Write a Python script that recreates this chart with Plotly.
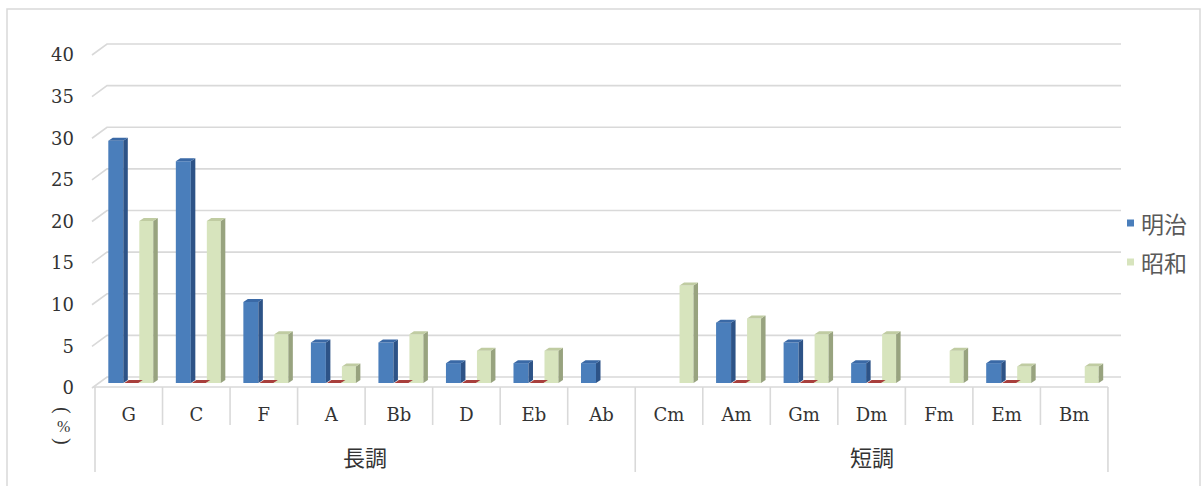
import plotly.graph_objects as go

# ---- data -------------------------------------------------------------
categories = ["G", "C", "F", "A", "Bb", "D", "Eb", "Ab",
              "Cm", "Am", "Gm", "Dm", "Fm", "Em", "Bm"]
group_names = ["長調", "短調"]
group_sizes = [8, 7]
meiji = [29.3, 26.8, 9.8, 4.9, 4.9, 2.4, 2.4, 2.4,
         None, 7.3, 4.9, 2.4, None, 2.4, None]
showa = [19.6, 19.6, 5.9, 2.0, 5.9, 3.9, 3.9, None,
         11.8, 7.8, 5.9, 5.9, 3.9, 2.0, 2.0]
third_series = [0, 0, 0, 0, 0, 0, 0, None,
                None, 0, 0, 0, None, 0, None]
y_ticks = [0, 5, 10, 15, 20, 25, 30, 35, 40]

# ---- geometry (pixels) ------------------------------------------------
W, H = 1202, 486
PX_L, PX_R, PX_T, PX_B = 92, 1121, 44, 388
CAT0, CAT_W = 95.0, 67.53          # front edge of the category axis
BASE_PX, Y_SCALE = 383.0, 8.27     # bar base and px per unit
WALL_SCALE = 8.325                 # back-wall gridline spacing
DEPTH_X, DEPTH_Y = 4.5 / CAT_W, 3.0 / Y_SCALE

x_range = [(PX_L - CAT0) / CAT_W - 0.5, (PX_R - CAT0) / CAT_W - 0.5]
y_range = [-(PX_B - BASE_PX) / Y_SCALE, (BASE_PX - PX_T) / Y_SCALE]


def pxx(px):
    return (px - PX_L) / (PX_R - PX_L)


def pxy(py):
    return (PX_B - py) / (PX_B - PX_T)


GRID = "#d9d9d9"
TEXT = "#333333"
SERIF = "DejaVu Serif"
CJK = "Noto Sans CJK JP"

series = [
    # values, offset, width, front, top, side
    (meiji, -0.303, 0.222, "#4a7ebb", "#3a69a6", "#2d5387"),
    (third_series, -0.066, 0.207, "#c0504d", "#a83f3c", "#86312f"),
    (showa, 0.156, 0.207, "#d7e4bd", "#c0cca2", "#98a37f"),
]

fig = go.Figure()
xs = list(range(len(categories)))

for vals, off, wid, c_front, c_top, c_side in series:
    side_x, side_y, top_x, top_y = [], [], [], []
    for i, v in enumerate(vals):
        if v is None:
            continue
        x0 = i + off
        x1 = x0 + wid
        side_x += [x1, x1, x1 + DEPTH_X, x1 + DEPTH_X, x1, None]
        side_y += [0, v, v + DEPTH_Y, DEPTH_Y, 0, None]
        top_x += [x0, x1, x1 + DEPTH_X, x0 + DEPTH_X, x0, None]
        top_y += [v, v, v + DEPTH_Y, v + DEPTH_Y, v, None]
    fig.add_trace(go.Scatter(x=side_x, y=side_y, mode="lines", fill="toself",
                             fillcolor=c_side, line=dict(width=0),
                             hoverinfo="skip", showlegend=False))
    fig.add_trace(go.Scatter(x=top_x, y=top_y, mode="lines", fill="toself",
                             fillcolor=c_top, line=dict(width=0),
                             hoverinfo="skip", showlegend=False))
    fig.add_trace(go.Bar(x=xs, y=vals, width=wid, offset=off,
                         marker=dict(color=c_front, line=dict(width=0)),
                         showlegend=False))

shapes = []
# back-wall gridlines with their slanted left end
for v in y_ticks:
    yf = PX_B - v * WALL_SCALE
    yb = 377 - v * WALL_SCALE
    shapes.append(dict(
        type="path", xref="paper", yref="paper", layer="below",
        path=f"M {pxx(92)},{pxy(yf)} L {pxx(107)},{pxy(yb)} L {pxx(1121)},{pxy(yb)}",
        line=dict(color=GRID, width=1.6)))

# category axis: floor front edge and separators
n = len(categories)
cat_right = CAT0 + n * CAT_W
shapes.append(dict(type="line", xref="paper", yref="paper", layer="below",
                   x0=pxx(93), x1=pxx(cat_right), y0=pxy(387), y1=pxy(387),
                   line=dict(color=GRID, width=1.6)))
group_edges = [0]
for s in group_sizes:
    group_edges.append(group_edges[-1] + s)
for i in range(n + 1):
    xp = CAT0 + i * CAT_W
    bottom = 472 if i in group_edges else 425
    shapes.append(dict(type="line", xref="paper", yref="paper",
                       x0=pxx(xp), x1=pxx(xp), y0=pxy(387), y1=pxy(bottom),
                       line=dict(color=GRID, width=1.6)))

# chart frame
shapes.append(dict(type="rect", xref="paper", yref="paper", layer="below",
                   x0=pxx(7), x1=pxx(1200), y0=pxy(9), y1=pxy(520),
                   line=dict(color=GRID, width=1.5)))

annotations = []
# group labels
for gi, name in enumerate(group_names):
    mid = CAT0 + (group_edges[gi] + group_edges[gi + 1]) / 2 * CAT_W
    annotations.append(dict(text=name, xref="paper", yref="paper",
                            x=pxx(mid), y=pxy(456), showarrow=False,
                            xanchor="center", yanchor="middle",
                            font=dict(family=CJK, size=22, color=TEXT)))

# unit label (%) written vertically: turned parentheses around an upright %
for txt, cy, angle, size in [("(", 410, 90, 20), ("%", 426, 0, 16), (")", 441, 90, 20)]:
    annotations.append(dict(text=txt, textangle=angle, xref="paper", yref="paper",
                            x=pxx(63), y=pxy(cy), showarrow=False,
                            xanchor="center", yanchor="middle",
                            font=dict(family="Liberation Serif", size=size, color=TEXT)))

# legend
legend_items = [("明治", "#4a7ebb", 223), ("昭和", "#d7e4bd", 262)]
for name, color, cy in legend_items:
    shapes.append(dict(type="rect", xref="paper", yref="paper",
                       x0=pxx(1127), x1=pxx(1134), y0=pxy(cy - 3.5), y1=pxy(cy + 3.5),
                       fillcolor=color, line=dict(width=0)))
    annotations.append(dict(text=name, xref="paper", yref="paper",
                            x=pxx(1139), y=pxy(cy), showarrow=False,
                            xanchor="left", yanchor="middle",
                            font=dict(family=CJK, size=23, color="#595959")))

fig.update_layout(
    width=W, height=H,
    margin=dict(l=PX_L, r=W - PX_R, t=PX_T, b=H - PX_B, pad=0),
    paper_bgcolor="white", plot_bgcolor="rgba(0,0,0,0)",
    barmode="overlay", showlegend=False,
    shapes=shapes, annotations=annotations,
    xaxis=dict(range=x_range, tickvals=xs, ticktext=categories,
               showgrid=False, zeroline=False, showline=False,
               ticks="outside", ticklen=0, ticklabelstandoff=10,
               tickfont=dict(family=SERIF, size=18, color=TEXT)),
    yaxis=dict(range=y_range,
               tickvals=[(BASE_PX - (PX_B - v * WALL_SCALE)) / Y_SCALE for v in y_ticks],
               ticktext=[str(v) for v in y_ticks],
               showgrid=False, zeroline=False, showline=False,
               ticks="", ticklabelstandoff=17,
               tickfont=dict(family=SERIF, size=18, color=TEXT)),
)

fig.write_html("out.html")
